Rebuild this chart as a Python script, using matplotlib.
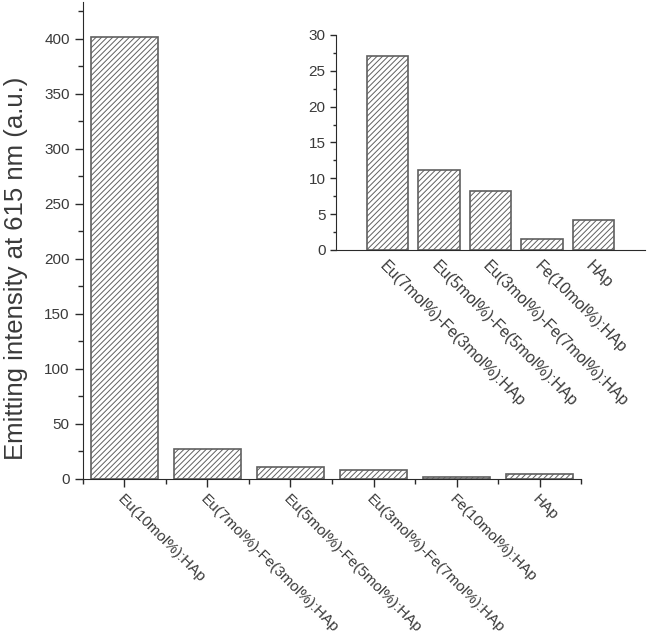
import matplotlib.pyplot as plt
from matplotlib.ticker import MultipleLocator

plt.rcParams['font.family'] = ['Liberation Sans', 'DejaVu Sans']
plt.rcParams['hatch.color'] = '#b0b0b0'
plt.rcParams['hatch.linewidth'] = 0.7

# Data
samples = ['Eu(10mol%):HAp', 'Eu(7mol%)-Fe(3mol%):HAp', 'Eu(5mol%)-Fe(5mol%):HAp',
           'Eu(3mol%)-Fe(7mol%):HAp', 'Fe(10mol%):HAp', 'HAp']
intensity = [402, 27.1, 11.2, 8.2, 1.6, 4.2]

inset_samples = samples[1:]
inset_intensity = intensity[1:]

TEXT = '#3a3a3a'
EDGE = '#606060'
AXIS = '#2a2a2a'

fig = plt.figure(figsize=(6.66, 6.43), dpi=100)

# Main chart
ax = fig.add_axes([0.1246, 0.2551, 0.7478, 0.7418])
pos = range(1, len(samples) + 1)
ax.bar(pos, intensity, width=0.8, color='white', edgecolor=EDGE, hatch='//////', linewidth=1.2)
ax.set_xlim(0.5, 6.5)
ax.set_ylim(0, 433.6)
ax.set_xticks(list(pos))
ax.set_xticklabels(samples, rotation=-45, ha='left', rotation_mode='anchor', fontsize=11, color=TEXT)
ax.xaxis.set_minor_locator(MultipleLocator(0.5))
ax.yaxis.set_major_locator(MultipleLocator(50))
ax.yaxis.set_minor_locator(MultipleLocator(25))
ax.tick_params(axis='y', labelsize=11, labelcolor=TEXT)
ax.tick_params(which='major', length=6, width=1, color=AXIS)
ax.tick_params(which='minor', length=3.5, width=1, color=AXIS)
for side in ['top', 'right']:
    ax.spines[side].set_visible(False)
for side in ['left', 'bottom']:
    ax.spines[side].set_color(AXIS)

fig.text(0.024, 0.582, 'Emitting intensity at 615 nm (a.u.)', rotation=90,
         ha='center', va='center', fontsize=18.5, color=TEXT)

# Inset chart
ins = fig.add_axes([0.5045, 0.6112, 0.464, 0.3344])
ipos = range(1, len(inset_samples) + 1)
ins.bar(ipos, inset_intensity, width=0.8, color='white', edgecolor=EDGE, hatch='//////', linewidth=1.2)
ins.set_xlim(0, 6)
ins.set_ylim(0, 30)
ins.set_xticks(list(ipos))
ins.set_xticklabels(inset_samples, rotation=-45, ha='left', rotation_mode='anchor', fontsize=11.5, color=TEXT)
ins.tick_params(axis='x', length=0, pad=6)
ins.yaxis.set_major_locator(MultipleLocator(5))
ins.yaxis.set_minor_locator(MultipleLocator(2.5))
ins.tick_params(axis='y', labelsize=11, labelcolor=TEXT)
ins.tick_params(axis='y', which='major', length=4, width=1, color=AXIS)
ins.tick_params(axis='y', which='minor', length=2, width=1, color=AXIS)
for side in ['top', 'right']:
    ins.spines[side].set_visible(False)
for side in ['left', 'bottom']:
    ins.spines[side].set_color(AXIS)

fig.savefig('out.png', dpi=100)
